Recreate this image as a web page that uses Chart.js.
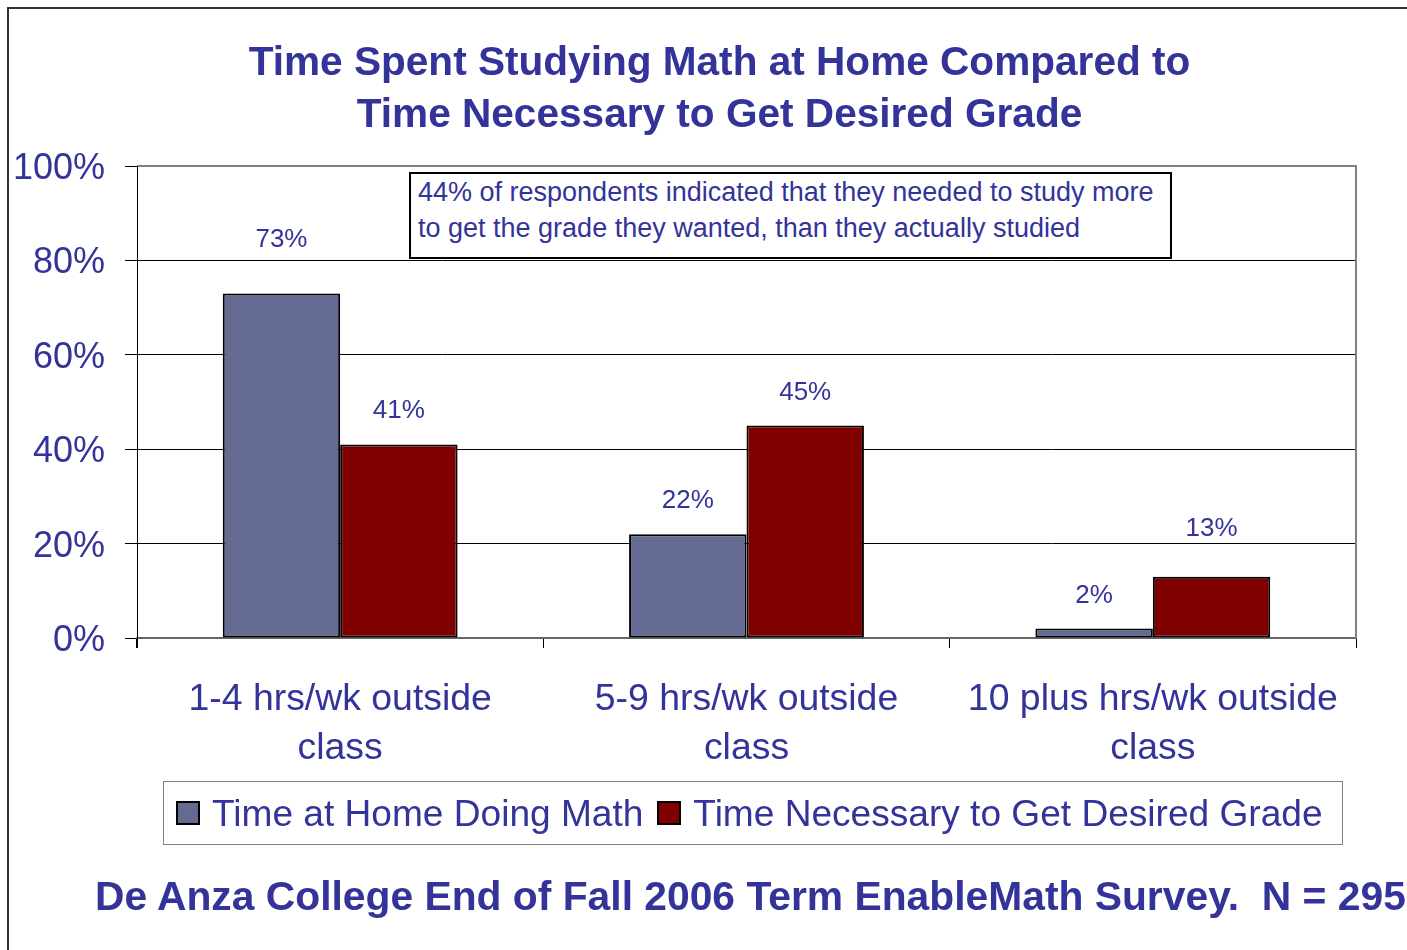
<!DOCTYPE html>
<html lang="en">
<head>
<meta charset="UTF-8">
<title>Time Spent Studying Math at Home</title>
<script src="https://cdn.jsdelivr.net/npm/chart.js@4.4.1/dist/chart.umd.min.js"></script>
<style>
  html, body { margin: 0; padding: 0; background: #fff; overflow: hidden; }
  body { width: 1407px; height: 950px; position: relative; font-family: Arial, "Liberation Sans", sans-serif; color: #333399; }
  #frame { position: absolute; left: 7px; top: 7px; width: 1500px; height: 1000px; border-left: 2px solid #333; border-top: 2px solid #333; }
  #chartWrap { position: absolute; left: 0; top: 0; width: 1407px; height: 950px; }
  #title { position: absolute; left: 0; top: 35px; width: 1439px; text-align: center; font-weight: bold; font-size: 40.6px; line-height: 52px; }
  #note { position: absolute; left: 409px; top: 172px; width: 752px; height: 83px; border: 2px solid #000; background: #fff; font-size: 27px; line-height: 36px; padding: 0 0 0 7px; white-space: nowrap; }
  #legend { position: absolute; left: 163px; top: 781px; width: 1178px; height: 62px; border: 1px solid #808080; display: flex; align-items: center; font-size: 37.1px; white-space: nowrap; }
  .item { display: flex; align-items: center; margin-left: 12px; }
  .item + .item { margin-left: 14px; }
  .swatch { width: 20px; height: 20px; border: 2px solid #000; margin-right: 12px; }
  #footer { position: absolute; left: 95px; top: 870px; font-weight: bold; font-size: 40.8px; line-height: 52px; white-space: nowrap; }
</style>
</head>
<body>
<div id="frame"></div>
<div id="chartWrap"><canvas id="chart" width="1407" height="950"></canvas></div>
<div id="title">Time Spent Studying Math at Home Compared to<br>Time Necessary to Get Desired Grade</div>
<div id="note">44% of respondents indicated that they needed to study more<br>to get the grade they wanted, than they actually studied</div>
<div id="legend"></div>
<div id="footer">De Anza College End of Fall 2006 Term EnableMath Survey.&nbsp; N = 295</div>

<script>
// data
const categories = [
    ['1-4 hrs/wk outside', 'class'],
    ['5-9 hrs/wk outside', 'class'],
    ['10 plus hrs/wk outside', 'class']
];
const seriesNames = ['Time at Home Doing Math', 'Time Necessary to Get Desired Grade'];
const homeValues = [73, 22, 2];
const neededValues = [41, 45, 13];
const yTicks = [0, 20, 40, 60, 80, 100];

// styling
const textColor = '#333399';
const barColors = ['#646a91', '#800000'];
// extra lift for a couple of labels that sit higher in the original
const labelLift = [[20, 0, 0], [0, 0, 15]];

// build the html legend
const legendEl = document.getElementById('legend');
seriesNames.forEach((name, i) => {
    const item = document.createElement('div');
    item.className = 'item';
    item.innerHTML = '<div class="swatch" style="background:' + barColors[i] + '"></div><span>' + name + '</span>';
    legendEl.appendChild(item);
});

// value labels above the bars
const barLabels = {
    id: 'barLabels',
    afterDatasetsDraw(chart) {
        const ctx = chart.ctx;
        ctx.save();
        ctx.font = '26px Arial, "Liberation Sans", sans-serif';
        ctx.fillStyle = textColor;
        ctx.textAlign = 'center';
        ctx.textBaseline = 'alphabetic';
        chart.data.datasets.forEach((ds, di) => {
            chart.getDatasetMeta(di).data.forEach((bar, i) => {
                ctx.fillText(ds.data[i] + '%', bar.x, bar.y - 26 - labelLift[di][i]);
            });
        });
        ctx.restore();
    }
};

// gray top and right edge of the plot area
const plotEdge = {
    id: 'plotEdge',
    afterDraw(chart) {
        const a = chart.chartArea;
        const ctx = chart.ctx;
        ctx.save();
        ctx.strokeStyle = '#808080';
        ctx.lineWidth = 2;
        ctx.beginPath();
        ctx.moveTo(a.left, a.top);
        ctx.lineTo(a.right, a.top);
        ctx.lineTo(a.right, a.bottom);
        ctx.stroke();
        // y axis line on top
        ctx.strokeStyle = '#000';
        ctx.lineWidth = 1;
        ctx.beginPath();
        ctx.moveTo(a.left + 0.5, a.top);
        ctx.lineTo(a.left + 0.5, a.bottom + 10);
        ctx.stroke();
        ctx.restore();
    }
};

const ctx = document.getElementById('chart').getContext('2d');
new Chart(ctx, {
    type: 'bar',
    data: {
        labels: categories,
        datasets: [
            { label: seriesNames[0], data: homeValues, backgroundColor: barColors[0], borderColor: '#000', borderWidth: 2, borderSkipped: false },
            { label: seriesNames[1], data: neededValues, backgroundColor: barColors[1], borderColor: '#000', borderWidth: 2, borderSkipped: false }
        ]
    },
    options: {
        responsive: false,
        animation: false,
        layout: { padding: { left: 0, right: 51, top: 166, bottom: 0 } },
        datasets: { bar: { barPercentage: 1, categoryPercentage: 0.578 } },
        plugins: { legend: { display: false }, tooltip: { enabled: false } },
        scales: {
            x: {
                afterFit: s => { s.height = 312; },
                grid: { drawOnChartArea: false, color: '#000', tickLength: 10, offset: true },
                border: { color: '#666', width: 2 },
                ticks: {
                    color: textColor,
                    font: { family: 'Arial, "Liberation Sans", sans-serif', size: 37.4, lineHeight: 1.32 },
                    padding: 27,
                    maxRotation: 0,
                    autoSkip: false
                }
            },
            y: {
                min: 0,
                max: 100,
                afterFit: s => { s.width = 137; },
                afterBuildTicks: s => { s.ticks = yTicks.map(v => ({ value: v })); },
                grid: { color: '#000', lineWidth: 1, tickLength: 12 },
                border: { color: '#000', width: 1 },
                ticks: {
                    color: textColor,
                    font: { family: 'Arial, "Liberation Sans", sans-serif', size: 36 },
                    padding: 20,
                    labelOffset: 3,
                    callback: v => v + '%'
                }
            }
        }
    },
    plugins: [barLabels, plotEdge]
});
</script>
</body>
</html>
